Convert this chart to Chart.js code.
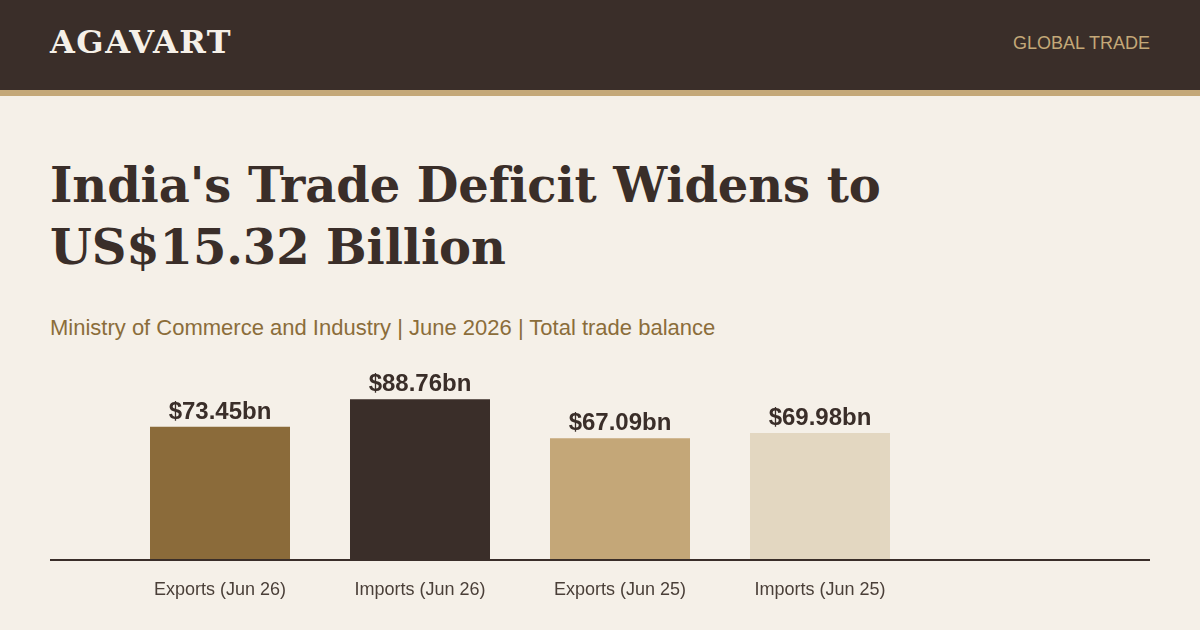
<!DOCTYPE html>
<html>
<head>
<meta charset="utf-8">
<script src="https://cdn.jsdelivr.net/npm/chart.js@4.4.1/dist/chart.umd.min.js"></script>
<style>
  html, body { margin: 0; padding: 0; }
  body { width: 1200px; height: 630px; background: #f5f0e8; position: relative; overflow: hidden; font-family: "Liberation Sans", Arial, sans-serif; }
  .header { position: absolute; left: 0; top: 0; width: 1200px; height: 90px; background: #3a2e29; border-bottom: 6px solid #c4a878; }
  .brand { position: absolute; left: 50px; top: 22px; font-family: "DejaVu Serif", "Liberation Serif", serif; font-weight: bold; font-size: 32px; color: #f5f0e8; line-height: 40px; letter-spacing: 1.5px; }
  .section { position: absolute; right: 50px; top: 32px; font-size: 18px; color: #c4a878; line-height: 22px; }
  h1 { position: absolute; left: 50px; top: 154px; margin: 0; width: 1000px; font-family: "DejaVu Serif", "Liberation Serif", serif; font-weight: bold; font-size: 48px; line-height: 62px; color: #3a2e29; letter-spacing: -0.1px; }
  .sub { position: absolute; left: 50px; top: 315px; font-size: 22px; color: #8b6d3a; line-height: 26px; }
  #wrap { position: absolute; left: 50px; top: 360px; width: 1100px; height: 270px; }
</style>
</head>
<body>
<div class="header">
  <div class="brand">AGAVART</div>
  <div class="section">GLOBAL TRADE</div>
</div>
<h1>India's Trade Deficit Widens to<br>US$15.32 Billion</h1>
<div class="sub">Ministry of Commerce and Industry | June 2026 | Total trade balance</div>
<div id="wrap"><canvas id="c" width="1100" height="270"></canvas></div>
<script>
const categories = ["Exports (Jun 26)", "Imports (Jun 26)", "Exports (Jun 25)", "Imports (Jun 25)"];
const values = [73.45, 88.76, 67.09, 69.98];
const valueLabels = ["$73.45bn", "$88.76bn", "$67.09bn", "$69.98bn"];
const barColors = ["#8b6b3a", "#3a2e29", "#c4a778", "#e3d7c1"];

const valueLabelPlugin = {
  id: 'valueLabels',
  afterDatasetsDraw(chart) {
    const ctx = chart.ctx;
    const meta = chart.getDatasetMeta(0);
    ctx.save();
    ctx.font = 'bold 24px "Liberation Sans", Arial, sans-serif';
    ctx.fillStyle = '#3a2e29';
    ctx.textAlign = 'center';
    ctx.textBaseline = 'alphabetic';
    meta.data.forEach((bar, i) => {
      ctx.fillText(valueLabels[i], bar.x, bar.y - 8);
    });
    ctx.restore();
  }
};

const baselinePlugin = {
  id: 'baseline',
  afterDatasetsDraw(chart) {
    const ctx = chart.ctx;
    const y = chart.scales.y.getPixelForValue(0);
    ctx.save();
    ctx.strokeStyle = '#3a2e29';
    ctx.lineWidth = 2;
    ctx.beginPath();
    ctx.moveTo(0, y + 1);
    ctx.lineTo(chart.width, y + 1);
    ctx.stroke();
    ctx.restore();
  }
};

new Chart(document.getElementById('c'), {
  type: 'bar',
  data: {
    labels: categories,
    datasets: [{
      data: values,
      backgroundColor: barColors,
      borderWidth: 0,
      categoryPercentage: 1,
      barPercentage: 0.7
    }]
  },
  options: {
    responsive: false,
    animation: false,
    layout: { padding: { left: 70, right: 230, top: 19, bottom: 31 } },
    plugins: { legend: { display: false }, tooltip: { enabled: false } },
    scales: {
      x: {
        grid: { display: false, drawTicks: false },
        border: { display: false },
        ticks: { color: '#4a3f38', font: { size: 18, family: '"Liberation Sans", Arial, sans-serif' }, padding: 20 },
        afterFit(scale) { scale.height = 40; }
      },
      y: { display: false, min: 0, max: 100 }
    }
  },
  plugins: [valueLabelPlugin, baselinePlugin]
});
</script>
</body>
</html>
